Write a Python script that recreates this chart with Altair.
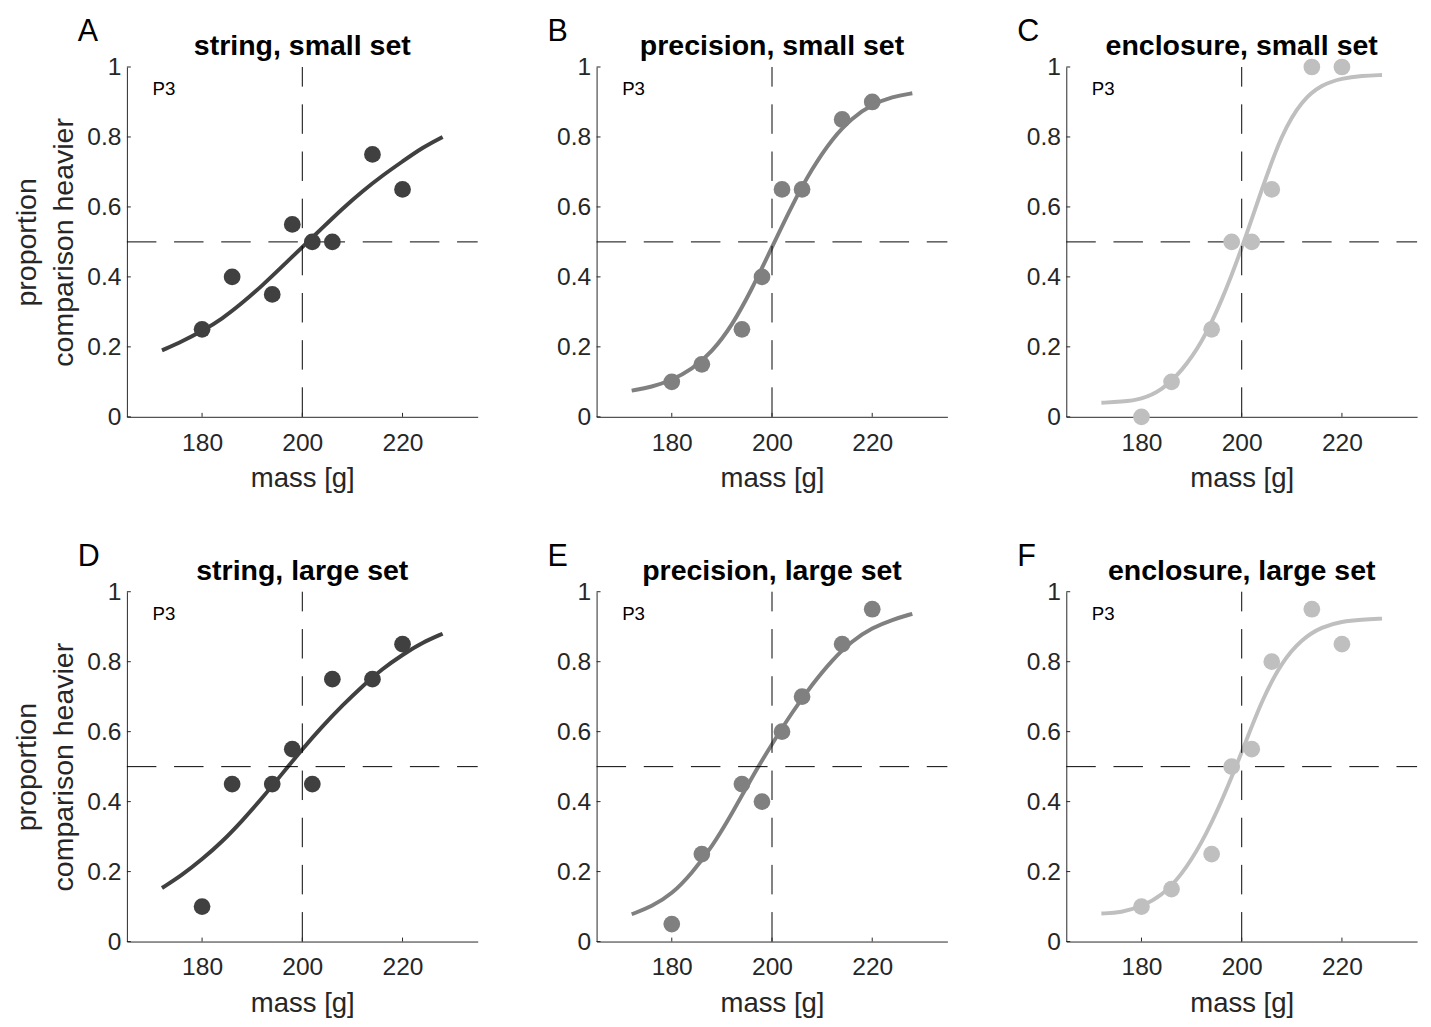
import altair as alt
import pandas as pd

FONT = "Liberation Sans"

# ---------------- data ----------------
masses = [180, 186, 194, 198, 202, 206, 214, 220]
curve_mass = [172, 176, 180, 184, 188, 192, 196, 200, 204, 208, 212, 216, 220, 224, 228]

letters = ["A", "B", "C", "D", "E", "F"]
titles = [
    "string, small set", "precision, small set", "enclosure, small set",
    "string, large set", "precision, large set", "enclosure, large set",
]
colors = ["#404040", "#808080", "#bfbfbf", "#404040", "#808080", "#bfbfbf"]
participant = "P3"

points_A = [0.25, 0.40, 0.35, 0.55, 0.50, 0.50, 0.75, 0.65]
points_B = [0.10, 0.15, 0.25, 0.40, 0.65, 0.65, 0.85, 0.90]
points_C = [0.00, 0.10, 0.25, 0.50, 0.50, 0.65, 1.00, 1.00]
points_D = [0.10, 0.45, 0.45, 0.55, 0.45, 0.75, 0.75, 0.85]
points_E = [0.05, 0.25, 0.45, 0.40, 0.60, 0.70, 0.85, 0.95]
points_F = [0.10, 0.15, 0.25, 0.50, 0.55, 0.80, 0.95, 0.85]

curve_A = [0.19, 0.215, 0.245, 0.28, 0.325, 0.375, 0.43, 0.485, 0.54, 0.595, 0.645, 0.69, 0.73, 0.77, 0.80]
curve_B = [0.075, 0.085, 0.105, 0.135, 0.185, 0.26, 0.365, 0.485, 0.605, 0.71, 0.795, 0.855, 0.893, 0.915, 0.925]
curve_C = [0.04, 0.043, 0.05, 0.075, 0.13, 0.21, 0.33, 0.48, 0.65, 0.81, 0.905, 0.95, 0.968, 0.975, 0.977]
curve_D = [0.153, 0.19, 0.235, 0.285, 0.345, 0.41, 0.48, 0.55, 0.615, 0.675, 0.73, 0.78, 0.82, 0.855, 0.88]
curve_E = [0.078, 0.10, 0.135, 0.195, 0.27, 0.365, 0.47, 0.565, 0.655, 0.735, 0.805, 0.86, 0.897, 0.92, 0.937]
curve_F = [0.08, 0.083, 0.10, 0.13, 0.19, 0.28, 0.40, 0.54, 0.69, 0.80, 0.865, 0.90, 0.915, 0.92, 0.923]

points_all = [points_A, points_B, points_C, points_D, points_E, points_F]
curves_all = [curve_A, curve_B, curve_C, curve_D, curve_E, curve_F]

x_domain = [165, 235]
y_domain = [0, 1]
x_ticks = [180, 200, 220]
y_ticks = [0, 0.2, 0.4, 0.6, 0.8, 1]
ref_mass = 200
ref_p = 0.5

W, H = 357, 356
AX = "#262626"


def enc_x():
    return alt.X(
        "mass:Q",
        scale=alt.Scale(domain=x_domain, nice=False, zero=False),
        title="mass [g]",
        axis=alt.Axis(
            values=x_ticks, ticks=False, tickSize=0, grid=False,
            domainColor=AX, domainWidth=1,
            labelFont=FONT, labelFontSize=25, labelColor=AX, labelPadding=14,
            titleFont=FONT, titleFontSize=28, titleFontWeight="normal",
            titleColor=AX, titlePadding=10,
        ),
    )


def enc_y(show_title):
    kw = dict(
        values=y_ticks, format="~g", ticks=False, tickSize=0, grid=False,
        domainColor=AX, domainWidth=1,
        labelFont=FONT, labelFontSize=25, labelColor=AX, labelPadding=6,
        titleFont=FONT, titleFontSize=29, titleFontWeight="normal",
        titleColor=AX, titlePadding=9, titleLineHeight=37,
    )
    return alt.Y(
        "p:Q",
        scale=alt.Scale(domain=y_domain, nice=False),
        title=["proportion", "comparison heavier"] if show_title else None,
        axis=alt.Axis(**kw),
    )


def panel(i):
    show = i % 3 == 0
    col = colors[i]
    X = enc_x()
    Y = enc_y(show)

    pts = pd.DataFrame({"mass": masses, "p": points_all[i]})
    cur = pd.DataFrame({"mass": curve_mass, "p": curves_all[i]})
    vline = pd.DataFrame({"mass": [ref_mass], "p": [y_domain[0]], "p2": [y_domain[1]]})
    hline = pd.DataFrame({"mass": [x_domain[0]], "mass2": [x_domain[1]], "p": [ref_p]})
    xt = pd.DataFrame({"mass": x_ticks})
    yt = pd.DataFrame({"p": y_ticks})

    curve = alt.Chart(cur).mark_line(color=col, strokeWidth=4, interpolate="basis").encode(x=X, y=Y)
    vr = alt.Chart(vline).mark_rule(color="black", strokeWidth=1, strokeDash=[30, 18]).encode(
        x=X, y=Y, y2=alt.Y2("p2:Q"))
    hr = alt.Chart(hline).mark_rule(color="black", strokeWidth=1, strokeDash=[30, 18]).encode(
        y=Y, x=X, x2=alt.X2("mass2:Q"))
    xtk = alt.Chart(xt).mark_rule(color=AX, strokeWidth=1).encode(
        x=X, y=alt.value(H), y2=alt.value(H - 4))
    ytk = alt.Chart(yt).mark_rule(color=AX, strokeWidth=1).encode(
        y=Y, x=alt.value(0), x2=alt.value(4))
    dots = alt.Chart(pts).mark_circle(color=col, size=290, opacity=1).encode(x=X, y=Y)
    letter = alt.Chart(pd.DataFrame({"t": [letters[i]]})).mark_text(
        align="left", baseline="alphabetic", font=FONT, fontSize=31, color="black"
    ).encode(text="t:N", x=alt.value(-50), y=alt.value(-26))
    title = alt.Chart(pd.DataFrame({"t": [titles[i]]})).mark_text(
        align="center", baseline="alphabetic", font=FONT, fontSize=29,
        fontWeight="bold", color="black"
    ).encode(text="t:N", x=alt.value(W / 2), y=alt.value(-12))
    ptxt = alt.Chart(pd.DataFrame({"t": [participant]})).mark_text(
        align="left", baseline="alphabetic", font=FONT, fontSize=19, color="black"
    ).encode(text="t:N", x=alt.value(26), y=alt.value(29))

    return alt.layer(curve, vr, hr, xtk, ytk, dots, letter, title, ptxt).properties(
        width=W, height=H,
    )


row1 = alt.hconcat(panel(0), panel(1), panel(2), spacing=70)
row2 = alt.hconcat(panel(3), panel(4), panel(5), spacing=70)
chart = alt.vconcat(row1, row2, spacing=50).configure_view(stroke=None).properties(
    background="white", padding={"left": 5, "top": 0, "right": 5, "bottom": 5}
)

chart.save("out.html", embed_options={"renderer": "svg", "actions": False})
